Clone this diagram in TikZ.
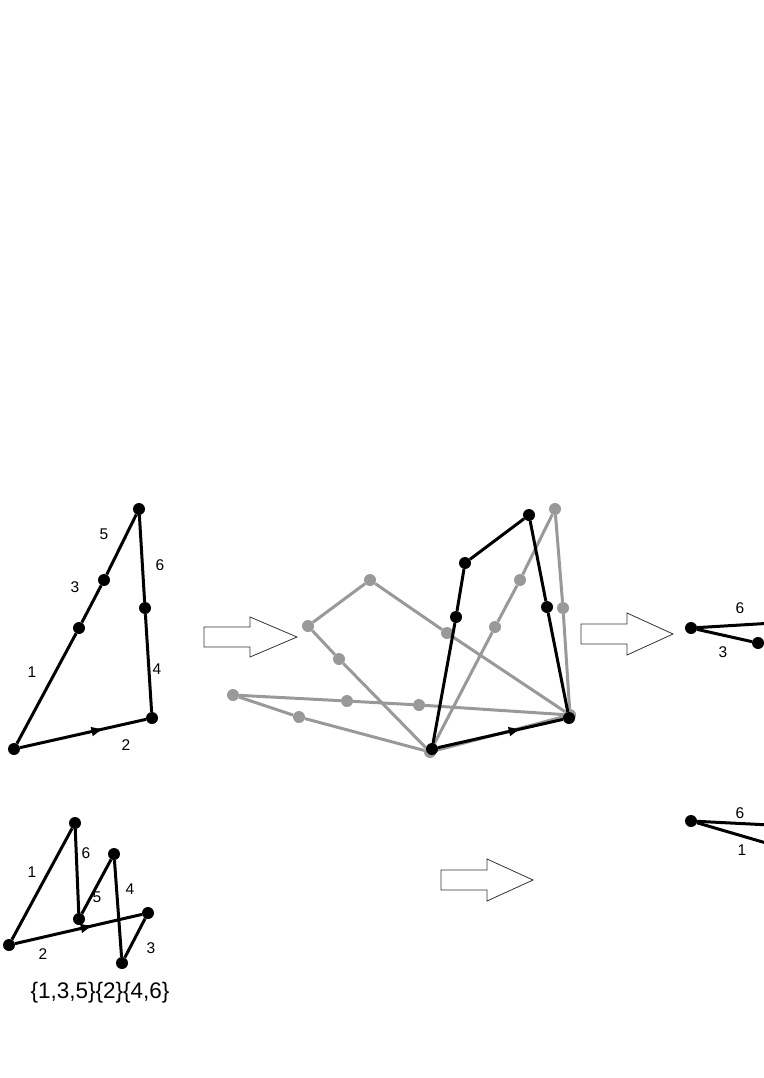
\documentclass[tikz,border=0pt]{standalone}
\usepackage{fontspec}
\setmainfont{Liberation Sans}
\usetikzlibrary{arrows.meta,decorations.markings}
\tikzset{
  dot/.style={circle,fill=black,inner sep=0pt,minimum size=12pt},
  gdot/.style={dot,fill=black!40},
  edge/.style={line width=3pt},
  gedge/.style={line width=3pt,black!40},
  lbl/.style={font=\fontsize{15.5}{15.5}\selectfont},
  mid/.style={postaction={decorate},decoration={markings,mark=at position #1 with {\arrow{Latex[length=13pt,width=10pt]}}}},
  fatarrow/.style={draw=black!80,line width=0.8pt,fill=white},
}
\begin{document}
\begin{tikzpicture}[x=1pt,y=-1pt]
  \useasboundingbox (0,0) rectangle (763,1078);
  % triangle top left
  \node[dot] (pA) at (14,749) {};
  \node[dot] (pB) at (152,718) {};
  \node[dot] (pC) at (139,509) {};
  \node[dot] (pD) at (145,608) {};
  \node[dot] (pE) at (104,580) {};
  \node[dot] (pF) at (79,628) {};
  \draw[edge] (pA) -- (pF) -- (pE) -- (pC) -- (pD) -- (pB);
  \draw[edge,mid=0.67] (pA) -- (pB);
  \node[lbl] (p1) at (32,672) {1};
  \node[lbl] (p2) at (126,745) {2};
  \node[lbl] (p3) at (75,587) {3};
  \node[lbl] (p4) at (157,669) {4};
  \node[lbl] (p5) at (104,534) {5};
  \node[lbl] (p6) at (160,565) {6};

  % hollow arrows
  \draw[fatarrow,shift={(204,637)}] (0,-10) -- (46,-10) -- (46,-20) -- (93,0) -- (46,20) -- (46,10) -- (0,10) -- cycle;
  \draw[fatarrow,shift={(581,634)}] (0,-10) -- (46,-10) -- (46,-21) -- (92,0) -- (46,21) -- (46,10) -- (0,10) -- cycle;
  \draw[fatarrow,shift={(441,880)}] (0,-10) -- (46,-10) -- (46,-21) -- (92,0) -- (46,21) -- (46,10) -- (0,10) -- cycle;

  % gray copies
  \node[gdot] (g1) at (308,626) {};
  \node[gdot] (g2) at (370,580) {};
  \node[gdot] (g3) at (447,633) {};
  \node[gdot] (g4) at (339,659) {};
  \node[gdot] (g5) at (233,695) {};
  \node[gdot] (g6) at (299,717) {};
  \node[gdot] (g7) at (347,701) {};
  \node[gdot] (g8) at (419,705) {};
  \node[gdot] (g9) at (555,509) {};
  \node[gdot] (g10) at (520,580) {};
  \node[gdot] (g11) at (495,627) {};
  \node[gdot] (g12) at (563,608) {};
  \node[gdot] (gA) at (430,752) {};
  \node[gdot] (gB) at (570,715) {};
  \draw[gedge] (g5) -- (g6) -- (gA);
  \draw[gedge] (g5) -- (g7) -- (g8) -- (gB);
  \draw[gedge] (g1) -- (g4) -- (gA);
  \draw[gedge] (g1) -- (g2) -- (g3) -- (gB);
  \draw[gedge] (gA) -- (g11) -- (g10) -- (g9) -- (g12) -- (gB);
  \draw[gedge] (gA) -- (gB);

  % black middle
  \node[dot] (mA) at (432,749) {};
  \node[dot] (mB) at (569,718) {};
  \node[dot] (mC) at (529,515) {};
  \node[dot] (mD) at (547,607) {};
  \node[dot] (mE) at (465,563) {};
  \node[dot] (mF) at (456,617) {};
  \draw[edge] (mA) -- (mF) -- (mE) -- (mC) -- (mD) -- (mB);
  \draw[edge,mid=0.67] (mA) -- (mB);

  % right, cut off
  \node[dot] (rA) at (691,628) {};
  \node[dot] (rB) at (758,643) {};
  \coordinate (rC) at (790,622);
  \draw[edge] (rA) -- (rC);
  \draw[edge] (rA) -- (rB);
  \node[lbl] (r6) at (740,608) {6};
  \node[lbl] (r3) at (723,652) {3};

  \node[dot] (sA) at (691,821) {};
  \coordinate (sB) at (790,826);
  \coordinate (sC) at (790,850);
  \draw[edge] (sA) -- (sB);
  \draw[edge] (sA) -- (sC);
  \node[lbl] (s6) at (740,813) {6};
  \node[lbl] (s1) at (742,850) {1};

  % zigzag bottom left
  \node[dot] (qA) at (9,945) {};
  \node[dot] (qB) at (75,823) {};
  \node[dot] (qC) at (79,919) {};
  \node[dot] (qD) at (114,854) {};
  \node[dot] (qE) at (148,913) {};
  \node[dot] (qF) at (122,963) {};
  \draw[edge] (qA) -- (qB) -- (qC) -- (qD) -- (qF) -- (qE);
  \draw[edge,mid=0.62] (qA) -- (qE);
  \node[lbl] (q1) at (32,872) {1};
  \node[lbl] (q2) at (43,954) {2};
  \node[lbl] (q3) at (151,948) {3};
  \node[lbl] (q4) at (130,889) {4};
  \node[lbl] (q5) at (97,897) {5};
  \node[lbl] (q6) at (86,853) {6};
  \node[font=\fontsize{22.5}{22.5}\selectfont] (set) at (100,993) {\{1,3,5\}\{2\}\{4,6\}};
\end{tikzpicture}
\end{document}
